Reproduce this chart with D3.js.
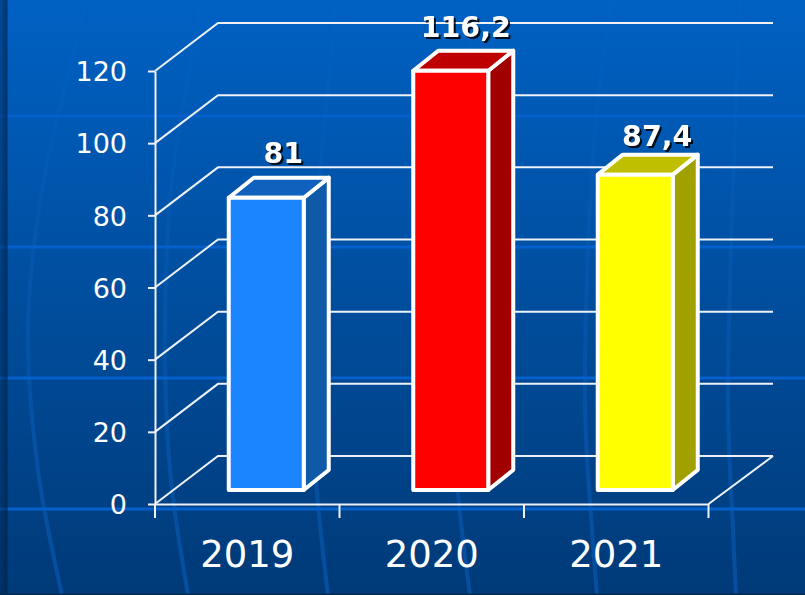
<!DOCTYPE html>
<html>
<head>
<meta charset="utf-8">
<script src="https://cdn.jsdelivr.net/npm/d3@7"></script>
<style>
html, body { margin: 0; padding: 0; background: #003c7c; overflow: hidden; }
svg { display: block; }
text { font-family: "DejaVu Sans", sans-serif; fill: #fff; }
</style>
</head>
<body>
<svg id="chart" width="805" height="595"></svg>
<script>
const years = ['2019', '2020', '2021'];
const values = [81, 116.2, 87.4];
const valueLabels = ['81', '116,2', '87,4'];
const yTicks = [0, 20, 40, 60, 80, 100, 120];
const frontColors = ['#1a85ff', '#ff0000', '#ffff00'];
const topColors = ['#1060bd', '#bf0000', '#bfbf00'];
const sideColors = ['#0f5aa8', '#a00000', '#a0a000'];

const chartW = 805, chartH = 595;
const svg = d3.select('#chart');

// scales
const x = d3.scaleBand().domain(years).range([155, 708.5]);
const y = d3.scaleLinear().domain([0, 120]).range([504, 71]);

// 3d offsets
const wallDx = 63, wallDy = -48;   // front of floor -> back wall
const barDx = 25, barDy = -20;     // depth of a bar
const baseDx = 19, baseDy = -14;   // front of floor -> front of bar
const barW = 75;
const wallRight = 773;

// background
const defs = svg.append('defs');
const bg = defs.append('linearGradient').attr('id', 'bg')
    .attr('x1', 0).attr('x2', 0).attr('y1', 0).attr('y2', 1);
bg.append('stop').attr('offset', 0).attr('stop-color', '#0061c3');
bg.append('stop').attr('offset', 1).attr('stop-color', '#003a78');
const edge = defs.append('linearGradient').attr('id', 'edge');
edge.append('stop').attr('offset', 0).attr('stop-color', '#00234d').attr('stop-opacity', 0.35);
edge.append('stop').attr('offset', 1).attr('stop-color', '#00234d').attr('stop-opacity', 0.75);
// the curves fade out towards the top
const curveFade = defs.append('linearGradient').attr('id', 'curveFade')
    .attr('gradientUnits', 'userSpaceOnUse')
    .attr('x1', 0).attr('x2', 0).attr('y1', 0).attr('y2', chartH);
curveFade.append('stop').attr('offset', 0).attr('stop-color', '#0a64c8').attr('stop-opacity', 0.12);
curveFade.append('stop').attr('offset', 1).attr('stop-color', '#0a5cb8').attr('stop-opacity', 0.6);

svg.append('rect').attr('width', chartW).attr('height', chartH).attr('fill', 'url(#bg)');

// faint curved lines in the backdrop
const curves = [
    [[87, 0], [42, 190], [28, 330], [38, 470], [62, 595]],
    [[202, 0], [172, 180], [165, 330], [170, 470], [188, 595]],
    [[337, 0], [318, 200], [312, 340], [315, 467], [328, 595]],
    [[475, 0], [455, 200], [450, 360], [458, 493], [470, 595]],
    [[612, 0], [595, 130], [585, 400], [592, 530], [597, 595]],
    [[740, 0], [735, 130], [728, 400], [733, 530], [736, 595]]
];
svg.append('g').selectAll('path').data(curves).join('path')
    .attr('d', d3.line().curve(d3.curveCatmullRom))
    .attr('fill', 'none')
    .attr('stroke', 'url(#curveFade)')
    .attr('stroke-width', 4);

const stripes = [116, 247, 378, 509];
svg.append('g').selectAll('rect').data(stripes).join('rect')
    .attr('x', 0).attr('width', chartW)
    .attr('y', d => d - 1.5).attr('height', 3)
    .attr('fill', '#0560cb');

svg.append('rect').attr('width', 7.5).attr('height', chartH).attr('fill', 'url(#edge)');
svg.append('rect').attr('y', chartH - 1.5).attr('width', chartW).attr('height', 1.5).attr('fill', '#002a50');

// grid: side wall + back wall
const grid = svg.append('g').attr('fill', 'none').attr('stroke', '#eef2f6').attr('stroke-width', 2);
grid.selectAll('path').data(yTicks).join('path')
    .attr('d', d => d3.line()([
        [x.range()[0], y(d)],
        [x.range()[0] + wallDx, y(d) + wallDy],
        [wallRight, y(d) + wallDy]
    ]));
// floor right edge
grid.append('path').attr('d', d3.line()([
    [wallRight, y(0) + wallDy],
    [x.range()[1], y(0)]
]));

// axes
const yAxis = svg.append('g')
    .attr('transform', `translate(${x.range()[0]},0)`)
    .call(d3.axisLeft(y).tickValues(yTicks).tickSize(7).tickPadding(21).tickSizeOuter(0));
yAxis.selectAll('text').style('font-size', '27px').attr('dy', '0.36em');

const xAxis = svg.append('g')
    .attr('transform', `translate(0,${y(0)})`)
    .call(d3.axisBottom(x).tickValues([]).tickSizeOuter(0));
xAxis.selectAll('.tick-mark').data([...years.map(d => x(d)), x.range()[1]]).join('line')
    .attr('class', 'tick-mark')
    .attr('x1', d => d).attr('x2', d => d)
    .attr('y1', 0).attr('y2', 14);
xAxis.selectAll('.year').data(years).join('text')
    .attr('class', 'year')
    .attr('x', d => x(d) + x.bandwidth() / 2)
    .attr('y', 63)
    .attr('text-anchor', 'middle')
    .style('font-size', '37px')
    .text(d => d);
svg.selectAll('.domain, .tick line, .tick-mark')
    .attr('stroke', '#eef2f6').attr('stroke-width', 2);

// bars
const bars = svg.append('g').selectAll('g').data(years).join('g')
    .attr('stroke', '#fff').attr('stroke-width', 4).attr('stroke-linejoin', 'round');
const bx = d => x(d) + x.bandwidth() / 2 - barW / 2 + baseDx;
const base = y(0) + baseDy;
const barTop = (d, i) => base - (y(0) - y(values[i]));

bars.append('path')
    .attr('fill', (d, i) => sideColors[i])
    .attr('d', (d, i) => d3.line()([
        [bx(d) + barW, barTop(d, i)],
        [bx(d) + barW + barDx, barTop(d, i) + barDy],
        [bx(d) + barW + barDx, base + barDy],
        [bx(d) + barW, base]
    ]) + 'Z');
bars.append('path')
    .attr('fill', (d, i) => topColors[i])
    .attr('d', (d, i) => d3.line()([
        [bx(d), barTop(d, i)],
        [bx(d) + barDx, barTop(d, i) + barDy],
        [bx(d) + barW + barDx, barTop(d, i) + barDy],
        [bx(d) + barW, barTop(d, i)]
    ]) + 'Z');
bars.append('rect')
    .attr('fill', (d, i) => frontColors[i])
    .attr('x', bx)
    .attr('y', barTop)
    .attr('width', barW)
    .attr('height', (d, i) => base - barTop(d, i));

// value labels, hand placed in the original so each one gets a small nudge
const labelNudgeX = [17, 15, 22], labelNudgeY = [-35, -34, -29];
svg.append('g').selectAll('text').data(years).join('text')
    .attr('x', (d, i) => bx(d) + barW / 2 + labelNudgeX[i])
    .attr('y', (d, i) => barTop(d, i) + labelNudgeY[i])
    .attr('text-anchor', 'middle')
    .style('font-size', '28.5px')
    .style('font-weight', 'bold')
    .style('filter', 'drop-shadow(2px 2px 0.6px rgba(0,0,0,0.85))')
    .text((d, i) => valueLabels[i]);
</script>
</body>
</html>
